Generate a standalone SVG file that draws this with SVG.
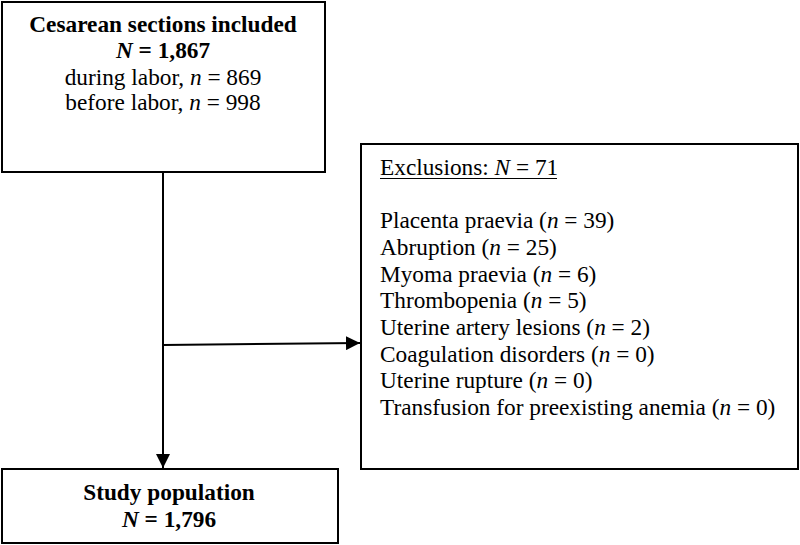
<svg xmlns="http://www.w3.org/2000/svg" width="800" height="545" viewBox="0 0 800 545">
<style>
.box{fill:#fff;stroke:#000;stroke-width:2}
.t{font-family:"Liberation Serif","Times New Roman",serif;font-size:23.3px;fill:#000}
.b{font-weight:bold}
.i{font-style:italic}
.c{text-anchor:middle}
.ln{stroke:#000;stroke-width:2;fill:none}
</style>
<defs>
<marker id="ah" markerWidth="14" markerHeight="14" refX="14" refY="7" orient="auto" markerUnits="userSpaceOnUse">
<path d="M0,0 L14,7 L0,14 Z" fill="#000"/>
</marker>
</defs>
<g id="connectors">
<line class="ln" x1="163" y1="172" x2="163" y2="468" marker-end="url(#ah)"/>
<line class="ln" x1="163" y1="345" x2="360" y2="343" marker-end="url(#ah)"/>
</g>
<g id="included">
<rect class="box" x="2" y="2" width="323" height="170"/>
<text class="t b c" x="163" y="32">Cesarean sections included</text>
<text class="t b c" x="163" y="58"><tspan class="i">N</tspan> = 1,867</text>
<text class="t c" x="163" y="85">during labor, <tspan class="i">n</tspan> = 869</text>
<text class="t c" x="163" y="110">before labor, <tspan class="i">n</tspan> = 998</text>
</g>
<g id="exclusions">
<rect class="box" x="361" y="144" width="437" height="325"/>
<text class="t" x="380" y="175">Exclusions: <tspan class="i">N</tspan> = 71</text>
<line x1="380" y1="178.5" x2="557" y2="178.5" stroke="#000" stroke-width="1"/>
<text class="t" x="380" y="228">Placenta praevia (<tspan class="i">n</tspan> = 39)</text>
<text class="t" x="380" y="255">Abruption (<tspan class="i">n</tspan> = 25)</text>
<text class="t" x="380" y="282">Myoma praevia (<tspan class="i">n</tspan> = 6)</text>
<text class="t" x="380" y="308">Thrombopenia (<tspan class="i">n</tspan> = 5)</text>
<text class="t" x="380" y="335">Uterine artery lesions (<tspan class="i">n</tspan> = 2)</text>
<text class="t" x="380" y="362">Coagulation disorders (<tspan class="i">n</tspan> = 0)</text>
<text class="t" x="380" y="388">Uterine rupture (<tspan class="i">n</tspan> = 0)</text>
<text class="t" x="380" y="415">Transfusion for preexisting anemia (<tspan class="i">n</tspan> = 0)</text>
</g>
<g id="study">
<rect class="box" x="2" y="469" width="336" height="74"/>
<text class="t b c" x="169" y="500">Study population</text>
<text class="t b c" x="169" y="527"><tspan class="i">N</tspan> = 1,796</text>
</g>
</svg>
